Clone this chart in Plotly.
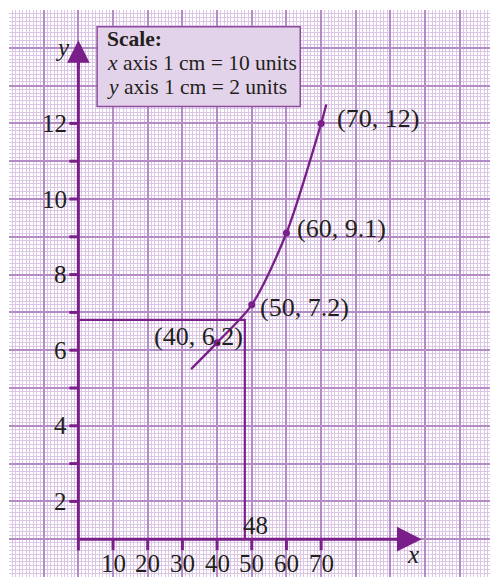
import plotly.graph_objects as go

# Plotted points of the relation
pts_x = [40, 50, 60, 70]
pts_y = [6.2, 7.2, 9.1, 12]

# Smooth curve drawn through the points (with its short extensions)
curve_x = [32.5, 40, 50, 60, 70, 71.5]
curve_y = [5.5, 6.2, 7.2, 9.1, 12, 12.5]

# Reading taken from the curve
read_x = 48
read_y = 6.8

# Axis tick values and labels
x_ticks = [10, 20, 30, 40, 50, 60, 70]
y_ticks = [2, 3, 4, 5, 6, 7, 8, 9, 10, 11, 12]
y_tick_labels = [2, 4, 6, 8, 10, 12]

scale_lines = ["<b>Scale:</b>",
               "<i>x</i> axis 1 cm = 10 units",
               "<i>y</i> axis 1 cm = 2 units"]

PURPLE = "#7a1f8a"
TEXT = "#231f20"
FONT = "Liberation Serif"

X_AXIS_Y = 1          # level at which the x axis is drawn
X_END = 99            # tip of the x-axis arrow
Y_BOTTOM, Y_END = 0.7, 14.2

fig = go.Figure()

# axes lines
fig.add_trace(go.Scatter(x=[0, X_END - 3], y=[X_AXIS_Y, X_AXIS_Y], mode="lines",
                         line=dict(color=PURPLE, width=3), hoverinfo="skip"))
fig.add_trace(go.Scatter(x=[0, 0], y=[Y_BOTTOM, Y_END - 0.5], mode="lines",
                         line=dict(color=PURPLE, width=3), hoverinfo="skip"))

# tick marks
tx, ty = [], []
for v in x_ticks:
    tx += [v, v, None]
    ty += [X_AXIS_Y, X_AXIS_Y - 0.29, None]
for v in y_ticks:
    tx += [0, -2.6, None]
    ty += [v, v, None]
fig.add_trace(go.Scatter(x=tx, y=ty, mode="lines",
                         line=dict(color=PURPLE, width=3), hoverinfo="skip"))

# reading lines
fig.add_trace(go.Scatter(x=[0, read_x, read_x], y=[read_y, read_y, X_AXIS_Y],
                         mode="lines", line=dict(color=PURPLE, width=2.2),
                         hoverinfo="skip"))

# curve
fig.add_trace(go.Scatter(x=curve_x, y=curve_y, mode="lines",
                         line=dict(color=PURPLE, width=2.3, shape="spline", smoothing=0.8),
                         hoverinfo="skip"))
# points
fig.add_trace(go.Scatter(x=pts_x, y=pts_y, mode="markers",
                         marker=dict(color=PURPLE, size=7), hoverinfo="skip"))

ann = []
# arrow heads
ann.append(dict(x=X_END, y=X_AXIS_Y, ax=X_END - 8, ay=X_AXIS_Y, xref="x", yref="y",
                axref="x", ayref="y", showarrow=True, arrowhead=2, arrowsize=1.65,
                arrowwidth=3, arrowcolor=PURPLE, text=""))
ann.append(dict(x=0, y=Y_END, ax=0, ay=Y_END - 0.8, xref="x", yref="y",
                axref="x", ayref="y", showarrow=True, arrowhead=2, arrowsize=1.5,
                arrowwidth=3, arrowcolor=PURPLE, text=""))

f_tick = dict(family=FONT, size=25, color=TEXT)
f_pt = dict(family=FONT, size=26, color=TEXT)
for v in x_ticks:
    ann.append(dict(x=v, y=0.37, text=str(v), showarrow=False, font=f_tick,
                    xanchor="center", yanchor="middle"))
for v in y_tick_labels:
    ann.append(dict(x=-2.8, y=v, text=str(v), showarrow=False, font=f_tick,
                    xanchor="right", yanchor="middle"))

ann.append(dict(x=96.5, y=0.6, text="<i>x</i>", showarrow=False, font=f_tick))
ann.append(dict(x=-4.6, y=14.02, text="<i>y</i>", showarrow=False, font=f_tick))
ann.append(dict(x=read_x, y=1.35, text=str(read_x), showarrow=False, font=f_tick,
                xanchor="left", xshift=-4))

# point labels
offsets = {40: ("center", -19, 6), 50: ("left", 6, -3),
           60: ("left", 9, 5), 70: ("left", 14, 5)}
for px, py in zip(pts_x, pts_y):
    anc, dx, dy = offsets[px]
    ann.append(dict(x=px, y=py, text=f"({px}, {py})", showarrow=False, font=f_pt,
                    xanchor=anc, yanchor="middle", xshift=dx, yshift=dy))

# scale box text
f21 = dict(family=FONT, size=21.5, color=TEXT)
for i, s in enumerate(scale_lines):
    ann.append(dict(x=7.6, y=14.24 - i * 0.645, text=s, showarrow=False, font=f21,
                    xanchor="left", yanchor="middle"))

fig.add_shape(type="rect", x0=5.4, x1=64, y0=12.45, y1=14.56, xref="x", yref="y",
              fillcolor="#e3d3ea", line=dict(color="#8e4a9e", width=1.5), layer="above")

fig.update_layout(
    width=490, height=577,
    margin=dict(l=8.6, r=0, t=9.75, b=0),
    paper_bgcolor="white", plot_bgcolor="white",
    showlegend=False, annotations=ann,
)
fig.update_xaxes(range=[-20, 118.7], dtick=10, tick0=0, showticklabels=False,
                 showgrid=True, gridcolor="#b58bc6", gridwidth=2, zeroline=False,
                 showline=False, ticks="",
                 minor=dict(dtick=1, showgrid=True, gridcolor="#dbc6e5", gridwidth=1))
fig.update_yaxes(range=[0, 15], dtick=1, tick0=0, showticklabels=False,
                 showgrid=True, gridcolor="#b58bc6", gridwidth=2, zeroline=False,
                 showline=False, ticks="",
                 minor=dict(dtick=0.1, showgrid=True, gridcolor="#dbc6e5", gridwidth=1))

fig.write_html("out.html")
